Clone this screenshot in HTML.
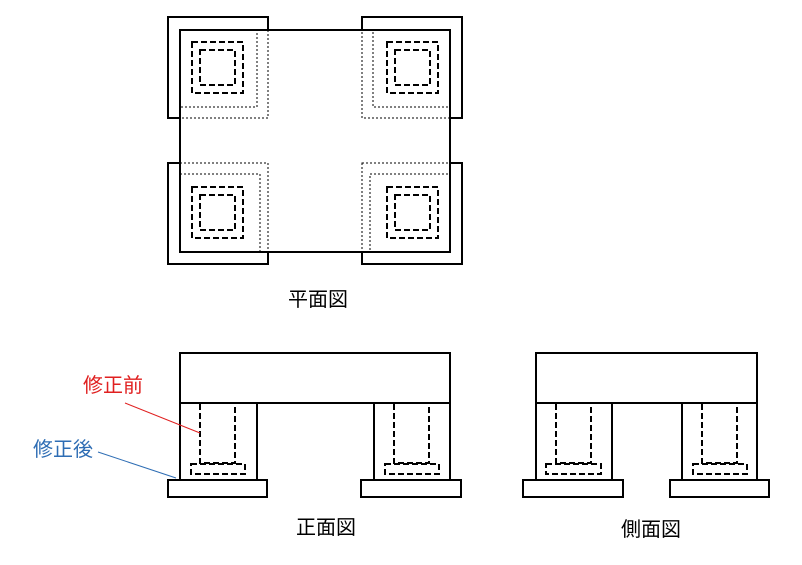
<!DOCTYPE html>
<html><head><meta charset="utf-8"><style>
html,body{margin:0;padding:0;background:#fff;}
svg{display:block;}
text{font-family:"Liberation Sans","Noto Sans CJK JP",sans-serif;}
</style></head><body>
<svg width="802" height="565" viewBox="0 0 802 565" xmlns="http://www.w3.org/2000/svg">
<g fill="none" stroke="#000" stroke-width="2">
<rect x="168" y="17" width="100" height="101"/>
<rect x="362" y="17" width="100" height="101"/>
<rect x="168" y="163" width="100" height="101"/>
<rect x="362" y="163" width="100" height="101"/>
<rect x="180" y="30" width="270" height="222" fill="#fff"/>
</g>
<g fill="none" stroke="#000" stroke-width="1" stroke-dasharray="2,2">
<rect x="180" y="30" width="88" height="88"/>
<rect x="180" y="30" width="77" height="77"/>
<rect x="362" y="30" width="88" height="88"/>
<rect x="373" y="30" width="77" height="77"/>
<rect x="180" y="163" width="88" height="89"/>
<rect x="180" y="174" width="80" height="78"/>
<rect x="362" y="163" width="88" height="89"/>
<rect x="370" y="174" width="80" height="78"/>
</g>
<g fill="none" stroke="#000" stroke-width="2" stroke-dasharray="6,3">
<rect x="192" y="42" width="51" height="51"/>
<rect x="200" y="50" width="35" height="35"/>
<rect x="387" y="42" width="51" height="51"/>
<rect x="395" y="50" width="35" height="35"/>
<rect x="192" y="187" width="51" height="51"/>
<rect x="200" y="195" width="35" height="35"/>
<rect x="387" y="187" width="51" height="51"/>
<rect x="395" y="195" width="35" height="35"/>
</g>
<g fill="none" stroke="#000" stroke-width="2">
<rect x="180" y="353" width="270" height="50"/>
<path d="M180 403V480M257 403V480M374 403V480M450 403V480"/>
<rect x="168" y="480" width="99" height="17"/>
<rect x="361" y="480" width="100" height="17"/>
<rect x="536" y="353" width="221" height="50"/>
<path d="M536 403V480M612 403V480M682 403V480M757 403V480"/>
<rect x="523" y="480" width="100" height="17"/>
<rect x="670" y="480" width="99" height="17"/>
</g>
<g fill="none" stroke="#000" stroke-width="2" stroke-dasharray="6,3">
<path d="M200 404V463H235V404"/><rect x="191" y="464" width="54" height="10"/>
<path d="M394 404V463H429V404"/><rect x="385" y="464" width="54" height="10"/>
<path d="M556 404V463H591V404"/><rect x="546" y="464" width="55" height="10"/>
<path d="M702 404V463H737V404"/><rect x="693" y="464" width="54" height="10"/>
</g>
<line x1="125" y1="403" x2="200" y2="433" stroke="#e02020" stroke-width="1"/>
<line x1="98" y1="452" x2="176" y2="478" stroke="#2e6db4" stroke-width="1"/>
<text x="83" y="392" font-size="20" fill="#e02020">修正前</text>
<text x="33" y="456" font-size="20" fill="#2e6db4">修正後</text>
<text x="288" y="306" font-size="20" fill="#000">平面図</text>
<text x="296" y="534" font-size="20" fill="#000">正面図</text>
<text x="621" y="536" font-size="20" fill="#000">側面図</text>
</svg>
</body></html>
